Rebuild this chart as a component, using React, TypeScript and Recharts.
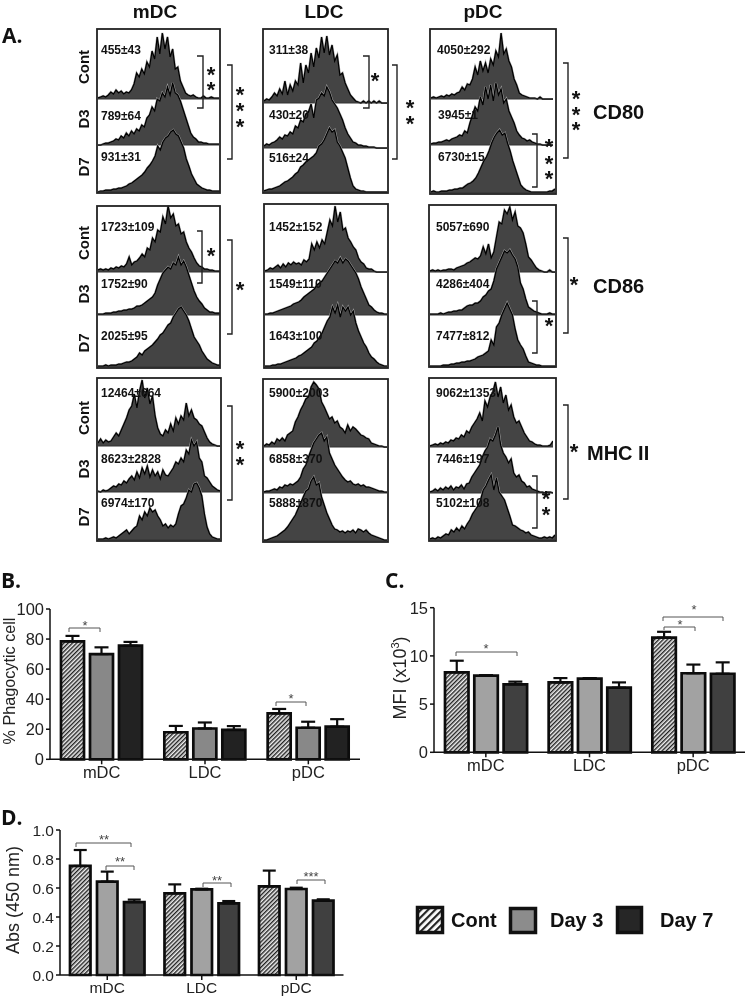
import React from "react";
import { AreaChart, Area, BarChart, Bar, ErrorBar, XAxis, YAxis, ReferenceLine } from "recharts";

const FONT = "'Liberation Sans', Arial, sans-serif";

// ---- Panel A histogram counts (one list per sample) ----
const mdcCd80Cont = [1,2,3,2,4,7,5,9,6,8,5,7,6,9,15,26,22,30,25,37,32,48,40,62,45,66,50,62,42,50,30,32,18,12,6,4,3,4,2,1,1,3,1,1,2,1,1,1];
const mdcCd80D3 = [0,0,1,2,2,3,4,6,5,9,7,12,9,14,11,16,14,20,18,27,30,38,34,46,44,52,48,58,50,62,52,50,44,36,28,20,12,8,6,3,3,2,2,1,1,1,1,1];
const mdcCd80D7 = [0,1,1,2,2,2,3,3,4,4,5,6,8,9,11,13,15,17,20,24,27,31,36,46,42,50,54,56,60,62,58,56,50,44,33,26,18,13,8,6,4,3,2,2,1,1,1,1];
const ldcCd80Cont = [2,4,3,6,10,7,14,9,22,8,18,12,22,18,40,20,38,30,50,36,55,45,66,50,67,48,58,42,48,28,30,20,14,8,5,2,1,0,2,0,2,0,2,0,2,0,0,0];
const ldcCd80D3 = [2,4,3,5,6,8,11,9,13,12,16,14,22,20,28,26,34,36,44,30,48,50,55,52,61,56,48,44,40,34,28,20,14,10,6,5,3,3,2,2,1,1,1,0,0,0,0,0];
const ldcCd80D7 = [1,2,3,3,4,5,6,8,10,11,13,15,18,20,25,27,30,32,34,36,39,46,48,52,58,64,60,62,50,46,40,34,24,14,6,3,2,1,1,0,0,0,0,0,0,0,0,0];
const pdcCd80Cont = [1,2,1,2,3,2,4,3,5,4,6,7,12,9,15,14,20,32,24,38,28,36,26,40,34,48,42,66,45,50,38,32,20,14,6,4,3,2,1,1,1,0,2,0,0,0,0,0];
const pdcCd80D3 = [1,2,2,3,3,4,5,4,6,7,8,10,9,14,12,22,30,38,34,48,40,58,46,60,44,62,50,56,42,46,34,28,22,14,10,7,6,4,5,3,2,1,1,0,0,0,0,0];
const pdcCd80D7 = [1,2,1,1,2,2,2,3,3,4,4,5,5,7,9,10,12,15,20,26,32,36,42,50,56,60,63,58,60,50,42,32,24,16,8,5,3,2,1,1,1,1,1,1,1,2,2,4];

const mdcCd86Cont = [2,3,2,3,2,4,3,5,4,6,5,8,15,7,10,11,14,18,15,24,22,34,30,42,40,55,48,66,54,58,46,48,38,40,30,24,20,14,9,6,5,3,3,2,2,1,1,1];
const mdcCd86D3 = [1,1,1,2,2,2,3,3,4,4,5,5,6,6,7,9,9,10,12,14,16,18,22,30,36,42,45,48,46,52,50,58,50,54,48,40,32,24,18,14,11,7,5,3,3,2,2,2];
const mdcCd86D7 = [1,1,1,2,1,2,2,2,3,3,4,5,5,6,8,10,14,12,16,18,20,22,25,28,32,34,38,42,44,50,54,58,60,56,52,46,38,30,26,22,16,12,8,6,4,3,2,2];
const ldcCd86Cont = [1,2,4,3,5,7,4,8,5,9,7,10,8,9,7,12,10,13,28,22,30,24,32,28,40,52,46,66,50,60,42,44,34,30,25,22,14,10,8,4,3,3,1,0,0,0,0,0];
const ldcCd86D3 = [1,1,2,2,3,4,5,6,7,8,9,11,12,13,15,18,20,22,24,26,30,32,34,38,42,46,50,54,52,57,52,56,54,50,46,42,36,28,22,16,10,8,5,3,2,2,1,1];
const ldcCd86D7 = [1,1,1,2,2,3,3,4,5,6,7,8,9,11,12,14,16,18,20,24,26,30,34,40,46,50,60,54,62,50,60,56,60,52,56,44,36,30,24,20,14,10,8,5,3,2,1,1];
const pdcCd86Cont = [1,2,1,2,1,2,2,3,3,2,4,5,6,7,9,10,12,14,13,16,25,18,28,14,20,35,50,48,62,58,65,52,60,46,44,39,28,15,12,8,4,2,1,0,0,2,0,0];
const pdcCd86D3 = [1,1,1,1,2,1,2,3,3,4,4,5,5,7,9,10,10,12,12,14,18,20,24,26,34,46,52,58,64,62,65,60,56,48,32,26,16,8,6,4,3,2,1,1,1,2,1,1];
const pdcCd86D7 = [1,1,1,1,1,2,2,2,3,3,4,4,5,5,6,6,7,8,10,11,12,14,16,27,22,40,44,52,58,64,58,52,38,27,22,18,11,5,4,3,2,2,1,1,1,1,1,1];

const mdcMhcCont = [3,7,3,6,4,5,9,13,10,16,22,28,36,40,52,38,55,66,48,58,42,50,30,18,12,10,16,13,22,15,28,22,30,26,43,30,36,28,26,22,20,14,8,4,2,1,0,0];
const mdcMhcD3 = [1,0,2,1,2,4,6,5,8,7,11,9,13,16,12,20,14,24,18,26,15,22,16,20,13,22,17,16,20,24,30,28,34,30,42,38,52,46,50,34,30,16,14,10,6,4,2,1];
const mdcMhcD7 = [1,1,1,2,1,2,3,2,4,6,8,10,6,9,12,14,24,20,28,24,32,28,30,24,20,14,16,12,15,13,16,26,34,36,42,50,48,56,57,52,44,26,13,6,3,2,1,1];
const ldcMhcCont = [1,3,2,5,3,8,6,9,6,12,14,16,25,30,37,42,48,50,60,65,62,58,45,40,34,28,30,24,26,20,18,14,22,16,20,18,15,12,11,9,8,4,3,2,1,1,0,0];
const ldcMhcD3 = [1,2,2,3,4,3,6,5,8,7,9,8,10,12,16,24,28,36,43,50,54,58,60,52,56,40,34,28,24,20,16,13,11,12,9,8,9,7,8,6,6,5,4,3,2,2,1,1];
const ldcMhcD7 = [1,1,2,3,4,5,7,9,11,14,18,22,26,32,38,44,50,52,60,64,56,58,44,36,28,22,16,12,11,9,10,8,10,9,11,8,12,11,9,11,8,6,5,4,3,2,1,1];
const pdcMhcCont = [1,2,3,2,4,3,5,4,7,6,9,8,12,10,16,14,20,24,28,34,26,46,40,50,55,65,50,60,44,52,37,42,30,24,26,20,14,10,6,5,3,2,2,1,1,1,2,6];
const pdcMhcD3 = [1,2,4,2,5,3,6,4,7,3,6,5,8,4,9,10,16,20,24,28,36,42,46,54,52,58,66,48,40,36,30,34,20,16,18,12,10,6,7,4,3,2,1,1,0,1,1,0];
const pdcMhcD7 = [1,2,1,3,2,4,6,5,10,8,12,9,14,11,16,20,26,30,34,40,50,54,60,65,50,62,48,44,40,32,24,15,14,12,10,9,7,8,5,4,3,2,2,3,2,3,2,5];

// ---- Bar chart values ----
const cellTypes = ["mDC", "LDC", "pDC"];
const phagoCont = [78.5, 18, 30.5];
const phagoDay3 = [70, 20.5, 21];
const phagoDay7 = [75.6, 19.6, 21.7];
const phagoContErr = [3.6, 4.2, 3];
const phagoDay3Err = [4.5, 4, 4];
const phagoDay7Err = [2.5, 2.5, 5];

const mfiCont = [8.3, 7.25, 11.9];
const mfiDay3 = [7.95, 7.64, 8.2];
const mfiDay7 = [7.05, 6.7, 8.15];
const mfiContErr = [1.2, 0.45, 0.6];
const mfiDay3Err = [0.05, 0.06, 0.9];
const mfiDay7Err = [0.28, 0.55, 1.18];

const absCont = [0.752, 0.563, 0.611];
const absDay3 = [0.644, 0.59, 0.593];
const absDay7 = [0.503, 0.494, 0.513];
const absContErr = [0.11, 0.062, 0.109];
const absDay3Err = [0.069, 0.005, 0.009];
const absDay7Err = [0.017, 0.016, 0.009];

const phagoTicks = [0, 20, 40, 60, 80, 100];
const mfiTicks = [0, 5, 10, 15];
const absTicks = [0, 0.2, 0.4, 0.6, 0.8, 1.0];

// ---- Panel A layout ----
const histScale = 70;
const hists: [number[], number, number, number][] = [
  [mdcCd80Cont, 98, 121, 99], [mdcCd80D3, 98, 121, 145], [mdcCd80D7, 98, 122, 192],
  [ldcCd80Cont, 264, 123, 103], [ldcCd80D3, 264, 123, 148], [ldcCd80D7, 264, 123, 192],
  [pdcCd80Cont, 431, 122, 99], [pdcCd80D3, 431, 122, 145], [pdcCd80D7, 431, 124, 193],
  [mdcCd86Cont, 98, 122, 272], [mdcCd86D3, 98, 122, 315], [mdcCd86D7, 98, 122, 367],
  [ldcCd86Cont, 265, 122, 272], [ldcCd86D3, 265, 122, 315], [ldcCd86D7, 265, 122, 367],
  [pdcCd86Cont, 430, 125, 272], [pdcCd86D3, 430, 125, 315], [pdcCd86D7, 430, 125, 367],
  [mdcMhcCont, 98, 122, 446], [mdcMhcD3, 98, 122, 492], [mdcMhcD7, 98, 122, 540],
  [ldcMhcCont, 264, 123, 447], [ldcMhcD3, 264, 123, 493], [ldcMhcD7, 264, 123, 541],
  [pdcMhcCont, 430, 123, 447], [pdcMhcD3, 430, 123, 493], [pdcMhcD7, 430, 125, 540],
];
const boxes = [
  [97, 29, 123, 164], [263, 29, 125, 164], [430, 29, 126, 165],
  [97, 206, 123, 162], [264, 204, 124, 164], [429, 205, 127, 162],
  [97, 378, 124, 163], [263, 379, 125, 163], [429, 378, 127, 163],
];
const valueLabels: [string, number, number][] = [
  ["455±43", 101, 54], ["789±64", 101, 120], ["931±31", 101, 161],
  ["311±38", 269, 54], ["430±20", 269, 119], ["516±24", 269, 162],
  ["4050±292", 437, 54], ["3945±1", 438, 119], ["6730±15", 438, 161],
  ["1723±109", 101, 231], ["1752±90", 101, 288], ["2025±95", 101, 340],
  ["1452±152", 269, 231], ["1549±110", 269, 288], ["1643±100", 269, 340],
  ["5057±690", 436, 231], ["4286±404", 436, 288], ["7477±812", 436, 340],
  ["12464±664", 101, 397], ["8623±2828", 101, 463], ["6974±170", 101, 507],
  ["5900±2003", 269, 397], ["6858±370", 269, 463], ["5888±870", 269, 507],
  ["9062±1353", 436, 397], ["7446±197", 436, 463], ["5102±108", 436, 507],
];
const rowLabels: [string, number][] = [
  ["Cont", 67], ["D3", 119], ["D7", 167],
  ["Cont", 243], ["D3", 294], ["D7", 343],
  ["Cont", 418], ["D3", 469], ["D7", 517],
];
// vertical x, top, bottom, arm end x
const squareBrackets = [
  [203, 56, 108, 197], [232, 65, 159, 227], [369, 56, 108, 363], [397, 65, 159, 392],
  [568, 63, 158, 563], [537, 134, 187, 532],
  [202, 231, 283, 197], [232, 240, 334, 227], [568, 238, 333, 563], [537, 301, 353, 532],
  [232, 406, 500, 227], [568, 405, 499, 563], [537, 476, 528, 532],
];
const bigStars = [
  [211, 72], [211, 87], [240, 92], [240, 108], [240, 124], [375, 78], [410, 105], [410, 121],
  [576, 96], [576, 112], [576, 127], [549, 144], [549, 161], [549, 176],
  [211, 253], [240, 287], [574, 282], [549, 323],
  [240, 446], [240, 462], [574, 449], [546, 496], [546, 512],
];
// left x, right x, top y, left drop, right drop, star text, star x, star y
const sigBrackets: [number, number, number, number, number, string, number, number][] = [
  [69, 100, 628, 4, 4, "*", 85, 624],
  [276, 306, 702, 4, 4, "*", 291, 697],
  [456, 517, 652, 4, 4, "*", 486, 647],
  [664, 695, 627, 3, 4, "*", 680, 623],
  [663, 723, 617, 4, 4, "*", 694, 608],
  [76, 131, 843, 4, 4, "**", 104, 838],
  [106, 134, 866, 4, 4, "**", 120, 860],
  [203, 231, 883, 4, 4, "**", 217, 879],
  [297, 325, 880, 4, 4, "***", 311, 875],
];

const Histogram = ({ counts, left, width, baseline }: { counts: number[]; left: number; width: number; baseline: number }) => {
  const rows = counts.map((count, bin) => ({ bin, count }));
  return (
    <div style={{ position: "absolute", left, top: baseline - histScale, width, height: histScale + 1 }}>
      <AreaChart width={width} height={histScale + 1} data={rows} margin={{ top: 0, right: 0, bottom: 1, left: 0 }}>
        <XAxis dataKey="bin" hide />
        <YAxis hide domain={[0, histScale]} />
        <ReferenceLine y={0} stroke="#333" strokeWidth={1} />
        <Area dataKey="count" type="linear" stroke="#aaa" strokeWidth={2.2} fill="none" dot={false} activeDot={false} isAnimationActive={false} />
        <Area dataKey="count" type="linear" stroke="#000" strokeWidth={1.25} fill="#444" fillOpacity={1} dot={false} activeDot={false} isAnimationActive={false} />
      </AreaChart>
    </div>
  );
};

type BarPanelProps = {
  id: string; left: number; top: number; width: number; height: number;
  plotLeft: number; plotRight: number; plotTop: number; plotBottom: number;
  cont: number[]; day3: number[]; day7: number[];
  contErr: number[]; day3Err: number[]; day7Err: number[];
  domainMax: number; ticks: number[]; fmt?: (v: number) => string;
  barSize: number; barGap: number; day3Fill: string; day7Fill: string; fontSize: number; capWidth: number;
};

const BarPanel = (p: BarPanelProps) => {
  const rows = cellTypes.map((cell, i) => ({
    cell,
    cont: p.cont[i], day3: p.day3[i], day7: p.day7[i],
    contE: [0, p.contErr[i]], day3E: [0, p.day3Err[i]], day7E: [0, p.day7Err[i]],
  }));
  const series: [string, string, string][] = [
    ["cont", "contE", `url(#${p.id})`],
    ["day3", "day3E", p.day3Fill],
    ["day7", "day7E", p.day7Fill],
  ];
  return (
    <div style={{ position: "absolute", left: p.left, top: p.top, width: p.width, height: p.height }}>
      <BarChart
        width={p.width}
        height={p.height}
        data={rows}
        barSize={p.barSize}
        barGap={p.barGap}
        margin={{ top: p.plotTop, right: p.width - p.plotRight, bottom: 0, left: 0 }}
      >
        <defs>
          <pattern id={p.id} patternUnits="userSpaceOnUse" width={3} height={3} patternTransform="rotate(45)">
            <rect width={3} height={3} fill="#eee" />
            <rect width={1.4} height={3} fill="#222" />
          </pattern>
        </defs>
        <XAxis
          dataKey="cell"
          height={p.height - p.plotBottom}
          interval={0}
          tickSize={5}
          tickMargin={2}
          axisLine={{ stroke: "#111", strokeWidth: 1.5 }}
          tickLine={{ stroke: "#111", strokeWidth: 1.5 }}
          tick={{ fontSize: p.fontSize, fill: "#222", fontFamily: FONT }}
        />
        <YAxis
          width={p.plotLeft}
          domain={[0, p.domainMax]}
          ticks={p.ticks}
          interval={0}
          tickFormatter={p.fmt}
          tickSize={4}
          tickMargin={2}
          axisLine={{ stroke: "#111", strokeWidth: 1.5 }}
          tickLine={{ stroke: "#111", strokeWidth: 1.5 }}
          tick={{ fontSize: p.fontSize, fill: "#222", fontFamily: FONT }}
        />
        {series.map(([key, errKey, fill]) => (
          <Bar key={key} dataKey={key} fill={fill} stroke="#0c0c0c" strokeWidth={2.7} isAnimationActive={false}>
            <ErrorBar dataKey={errKey} direction="y" width={p.capWidth} stroke="#0c0c0c" strokeWidth={2.2} isAnimationActive={false} />
          </Bar>
        ))}
      </BarChart>
    </div>
  );
};

const boldFont = { fontFamily: FONT, fontWeight: 700 as const };

const Overlay = () => (
  <svg width={750} height={999} style={{ position: "absolute", left: 0, top: 0, pointerEvents: "none" }}>
    <defs>
      <pattern id="legendHatch" patternUnits="userSpaceOnUse" width={5} height={5} patternTransform="rotate(45)">
        <rect width={5} height={5} fill="#fff" />
        <rect width={2.2} height={5} fill="#222" />
      </pattern>
    </defs>
    {boxes.map(([x, y, w, h], i) => (
      <rect key={i} x={x} y={y} width={w} height={h} fill="none" stroke="#222" strokeWidth={1.8} />
    ))}
    {valueLabels.map(([t, x, y], i) => (
      <text key={i} x={x} y={y} fontSize={12} fill="#111" {...boldFont}>{t}</text>
    ))}
    {rowLabels.map(([t, y], i) => (
      <text key={i} transform={`translate(88.5 ${y}) rotate(-90)`} textAnchor="middle" fontSize={15} fill="#111" {...boldFont}>{t}</text>
    ))}
    {[["mDC", 155], ["LDC", 324], ["pDC", 483]].map(([t, x]) => (
      <text key={t as string} x={x as number} y={18} textAnchor="middle" fontSize={19} fill="#111" {...boldFont}>{t}</text>
    ))}
    <text x={593} y={119} fontSize={20} fill="#111" {...boldFont}>CD80</text>
    <text x={593} y={293} fontSize={20} fill="#111" {...boldFont}>CD86</text>
    <text x={587} y={460} fontSize={20} fill="#111" {...boldFont}>MHC II</text>
    {[["A.", 2, 43], ["B.", 1, 588], ["C.", 385, 588], ["D.", 1, 825]].map(([t, x, y]) => (
      <text key={t as string} x={x as number} y={y as number} fontSize={21} fontWeight={700} fontFamily="'Open Sans', sans-serif" fill="#111">{t}</text>
    ))}
    {squareBrackets.map(([vx, t, b, ax], i) => (
      <path key={i} d={`M${ax} ${t}H${vx}V${b}H${ax}`} fill="none" stroke="#222" strokeWidth={1.4} />
    ))}
    {bigStars.map(([x, y], i) => (
      <text key={i} x={x} y={y + 10} textAnchor="middle" fontSize={22} fill="#111" {...boldFont}>*</text>
    ))}
    {sigBrackets.map(([l, r, y, dl, dr, s, sx, sy], i) => (
      <g key={i}>
        <path d={`M${l} ${y + dl}V${y}H${r}V${y + dr}`} fill="none" stroke="#555" strokeWidth={1} />
        <text x={sx} y={sy + 6} textAnchor="middle" fontSize={13} fill="#444" fontFamily={FONT}>{s}</text>
      </g>
    ))}
    <text transform="translate(15 681) rotate(-90)" textAnchor="middle" fontSize={16.2} fill="#222" fontFamily={FONT}>% Phagocytic cell</text>
    <text transform="translate(406 678) rotate(-90)" textAnchor="middle" fontSize={18} fill="#222" fontFamily={FONT}>
      MFI (x10<tspan fontSize={11} dy={-7}>3</tspan><tspan dy={7}>)</tspan>
    </text>
    <text transform="translate(19 900) rotate(-90)" textAnchor="middle" fontSize={18} fill="#222" fontFamily={FONT}>Abs (450 nm)</text>
    <rect x={417.5} y={907.5} width={25} height={25} fill="url(#legendHatch)" stroke="#111" strokeWidth={3.5} />
    <text x={451} y={927} fontSize={20} fill="#111" {...boldFont}>Cont</text>
    <rect x={510.5} y={908.5} width={25} height={24} fill="#8c8c8c" stroke="#111" strokeWidth={3.5} />
    <text x={550} y={927} fontSize={20} fill="#111" {...boldFont}>Day 3</text>
    <rect x={617.5} y={907.5} width={24} height={25} fill="#262626" stroke="#111" strokeWidth={3.5} />
    <text x={660} y={927} fontSize={20} fill="#111" {...boldFont}>Day 7</text>
  </svg>
);

export default function App() {
  return (
    <div style={{ position: "absolute", left: 0, top: 0, width: 750, height: 999, background: "#fff", overflow: "hidden", filter: "blur(0.35px)" }}>
      {hists.map(([counts, left, width, baseline], i) => (
        <Histogram key={i} counts={counts} left={left} width={width} baseline={baseline} />
      ))}
      <BarPanel
        id="hatchB" left={0} top={600} width={380} height={190}
        plotLeft={50} plotRight={360} plotTop={9} plotBottom={159.3}
        cont={phagoCont} day3={phagoDay3} day7={phagoDay7}
        contErr={phagoContErr} day3Err={phagoDay3Err} day7Err={phagoDay7Err}
        domainMax={100} ticks={phagoTicks}
        barSize={23} barGap={6} day3Fill="#888" day7Fill="#222" fontSize={16.5} capWidth={7}
      />
      <BarPanel
        id="hatchC" left={375} top={600} width={375} height={190}
        plotLeft={59} plotRight={370} plotTop={7.7} plotBottom={152.3}
        cont={mfiCont} day3={mfiDay3} day7={mfiDay7}
        contErr={mfiContErr} day3Err={mfiDay3Err} day7Err={mfiDay7Err}
        domainMax={15} ticks={mfiTicks}
        barSize={23.5} barGap={5.8} day3Fill="#a2a2a2" day7Fill="#404040" fontSize={16.5} capWidth={7}
      />
      <BarPanel
        id="hatchD" left={0} top={820} width={380} height={179}
        plotLeft={60} plotRight={343.5} plotTop={10} plotBottom={155}
        cont={absCont} day3={absDay3} day7={absDay7}
        contErr={absContErr} day3Err={absDay3Err} day7Err={absDay7Err}
        domainMax={1} ticks={absTicks} fmt={(v: number) => v.toFixed(1)}
        barSize={20.5} barGap={6.5} day3Fill="#a2a2a2" day7Fill="#404040" fontSize={15.5} capWidth={6.5}
      />
      <Overlay />
    </div>
  );
}
